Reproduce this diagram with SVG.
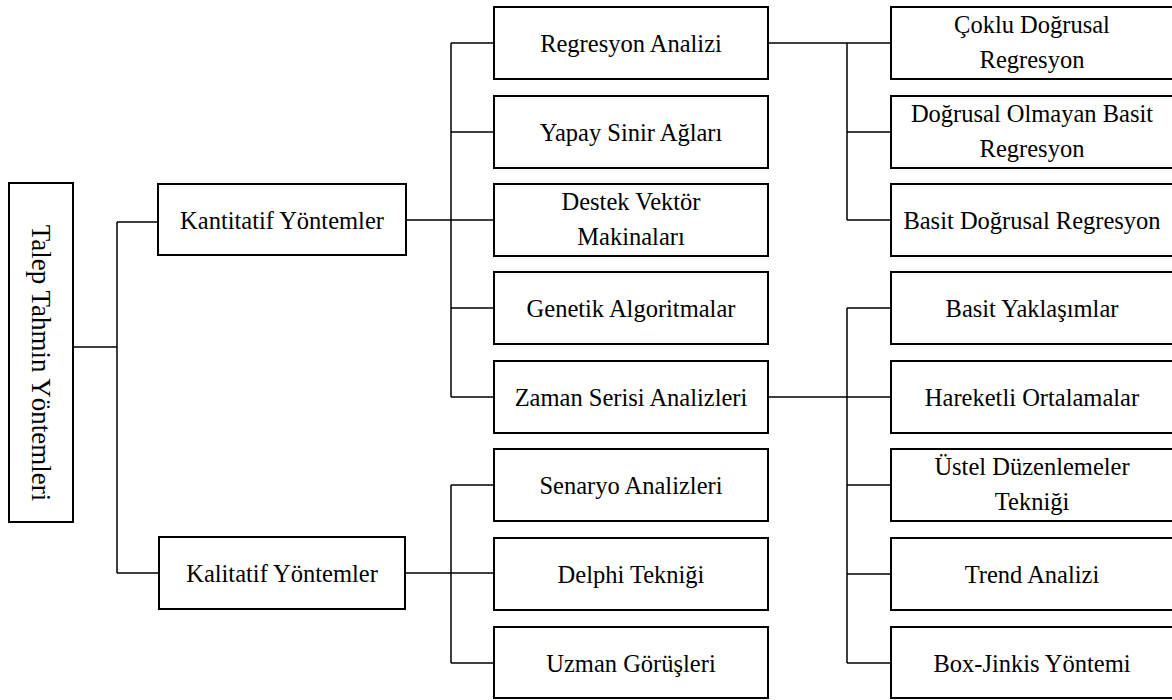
<svg xmlns="http://www.w3.org/2000/svg" width="1172" height="700" viewBox="0 0 1172 700">
<style>
.box{fill:#fff;stroke:#000;stroke-width:2}
.t{font-family:"Liberation Serif","Times New Roman",serif;font-size:24.5px;fill:#000;text-anchor:middle}
.rt{font-family:"Liberation Serif","Times New Roman",serif;font-size:27px;fill:#000;text-anchor:middle}
.c{stroke:#000;stroke-width:1.5;fill:none}
</style>
<rect width="1172" height="700" fill="#fff"/>
<g id="connectors">
<path class="c" d="M73 347H117M117 222V573M117 222H158M117 573H159"/>
<path class="c" d="M406 220H494M451 43V397M451 43H494M451 132H494M451 308H494M451 397H494"/>
<path class="c" d="M405 573H494M451 485V663M451 485H494M451 663H494"/>
<path class="c" d="M768 43H891M847 43V220M847 132H891M847 220H891"/>
<path class="c" d="M768 397H891M847 308V663M847 308H891M847 485H891M847 574H891M847 663H891"/>
</g>
<g id="n-root"><rect class="box" x="9" y="183" width="64" height="339"/><text class="rt" transform="translate(32,363) rotate(90)">Talep Tahmin Yöntemleri</text></g>
<g id="n-kantitatif"><rect class="box" x="158" y="184" width="248" height="71"/><text class="t" x="282" y="229">Kantitatif Yöntemler</text></g>
<g id="n-kalitatif"><rect class="box" x="159" y="537" width="246" height="72"/><text class="t" x="282" y="582">Kalitatif Yöntemler</text></g>
<g id="n-regresyon"><rect class="box" x="494" y="7" width="274" height="72"/><text class="t" x="631" y="52">Regresyon Analizi</text></g>
<g id="n-yapay"><rect class="box" x="494" y="96" width="274" height="72"/><text class="t" x="631" y="141">Yapay Sinir Ağları</text></g>
<g id="n-destek"><rect class="box" x="494" y="184" width="274" height="72"/><text class="t" x="631" y="210">Destek Vektör</text><text class="t" x="631" y="245">Makinaları</text></g>
<g id="n-genetik"><rect class="box" x="494" y="272" width="274" height="72"/><text class="t" x="631" y="317">Genetik Algoritmalar</text></g>
<g id="n-zaman"><rect class="box" x="494" y="361" width="274" height="72"/><text class="t" x="631" y="406">Zaman Serisi Analizleri</text></g>
<g id="n-senaryo"><rect class="box" x="494" y="449" width="274" height="72"/><text class="t" x="631" y="494">Senaryo Analizleri</text></g>
<g id="n-delphi"><rect class="box" x="494" y="538" width="274" height="72"/><text class="t" x="631" y="583">Delphi Tekniği</text></g>
<g id="n-uzman"><rect class="box" x="494" y="627" width="274" height="71"/><text class="t" x="631" y="672">Uzman Görüşleri</text></g>
<g id="n-coklu"><rect class="box" x="891" y="7" width="284" height="72"/><text class="t" x="1032" y="33">Çoklu Doğrusal</text><text class="t" x="1032" y="68">Regresyon</text></g>
<g id="n-dogrusal-olmayan"><rect class="box" x="891" y="96" width="284" height="72"/><text class="t" x="1032" y="122">Doğrusal Olmayan Basit</text><text class="t" x="1032" y="157">Regresyon</text></g>
<g id="n-basit-dogrusal"><rect class="box" x="891" y="184" width="284" height="72"/><text class="t" x="1032" y="229">Basit Doğrusal Regresyon</text></g>
<g id="n-basit-yaklasim"><rect class="box" x="891" y="272" width="284" height="72"/><text class="t" x="1032" y="317">Basit Yaklaşımlar</text></g>
<g id="n-hareketli"><rect class="box" x="891" y="361" width="284" height="72"/><text class="t" x="1032" y="406">Hareketli Ortalamalar</text></g>
<g id="n-ustel"><rect class="box" x="891" y="449" width="284" height="72"/><text class="t" x="1032" y="475">Üstel Düzenlemeler</text><text class="t" x="1032" y="510">Tekniği</text></g>
<g id="n-trend"><rect class="box" x="891" y="538" width="284" height="72"/><text class="t" x="1032" y="583">Trend Analizi</text></g>
<g id="n-box"><rect class="box" x="891" y="627" width="284" height="71"/><text class="t" x="1032" y="672">Box-Jinkis Yöntemi</text></g>
</svg>
